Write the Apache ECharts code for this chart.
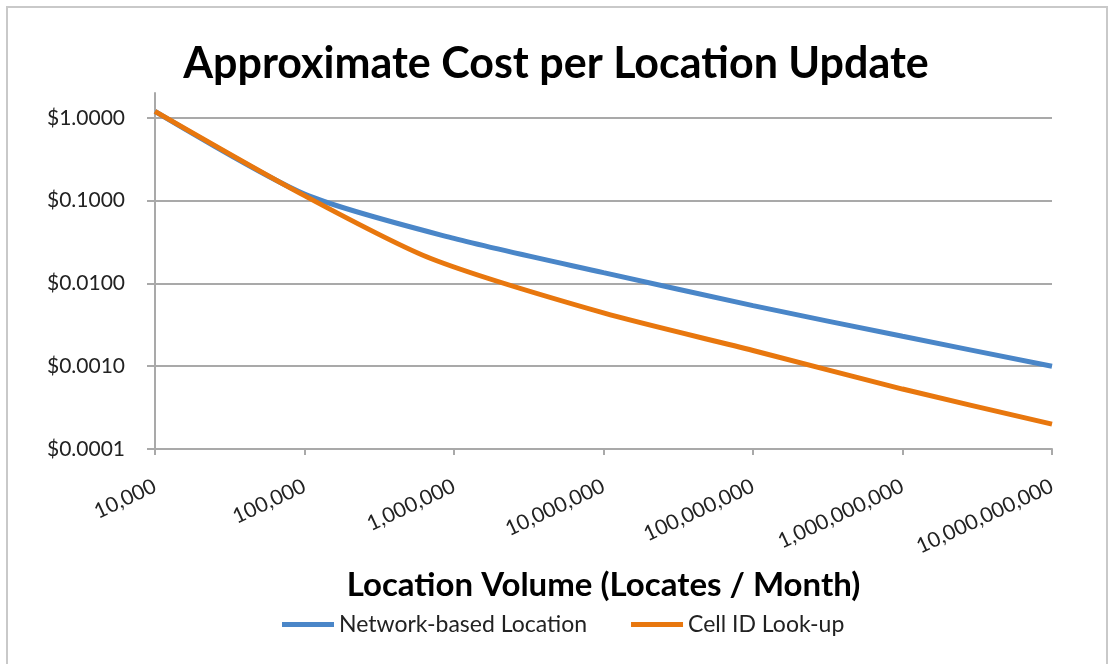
<!DOCTYPE html>
<html>
<head>
<meta charset="utf-8">
<script src="https://cdn.jsdelivr.net/npm/echarts@6/dist/echarts.min.js"></script>
<style>
  html, body { margin: 0; padding: 0; background: #fff; }
  #chart { width: 1112px; height: 664px; }
</style>
</head>
<body>
<div id="chart"></div>
<script>
// Monthly location volume (locates / month) and cost per update, in dollars
const networkVolume = [1e4, 1e5, 1e6, 1e7, 1e8, 1e9, 1e10];
const networkCost   = [1.2, 0.12, 0.035, 0.0135, 0.0054, 0.0023, 0.001];

const cellVolume = [1e4, 1e5, 7e5, 1e7, 1e8, 1e9, 1e10];
const cellCost   = [1.2, 0.115, 0.02, 0.0044, 0.00155, 0.00053, 0.0002];

const costTicks = [0.0001, 0.001, 0.01, 0.1, 1];

const seriesNames = ['Network-based Location', 'Cell ID Look-up'];
const colors = ['#4A86C8', '#E8770E'];

const FONT = 'Lato, "Open Sans", sans-serif';

const pairs = (xs, ys) => xs.map((x, i) => [x, ys[i]]);

const chart = echarts.init(document.getElementById('chart'));
chart.setOption({
  animation: false,
  backgroundColor: '#ffffff',
  graphic: [{
    type: 'rect',
    shape: { x: 7, y: 7, width: 1100, height: 700 },
    style: { fill: 'none', stroke: '#c9c9c9', lineWidth: 2 },
    silent: true
  }],
  title: {
    text: 'Approximate Cost per Location Update',
    left: 'center',
    top: 38,
    textStyle: { fontFamily: FONT, fontWeight: 'bold', fontSize: 43, color: '#000' }
  },
  legend: {
    bottom: 23,
    left: 277,
    itemWidth: 52,
    itemHeight: 5,
    itemGap: 44,
    icon: 'rect',
    textStyle: { fontFamily: FONT, fontSize: 23, color: '#222' },
    data: seriesNames
  },
  grid: { left: 155, right: 60, top: 93, bottom: 215, containLabel: false },
  xAxis: {
    type: 'log',
    logBase: 10,
    min: 1e4,
    max: 1e10,
    name: 'Location Volume (Locates / Month)',
    nameLocation: 'middle',
    nameGap: 120,
    nameTextStyle: { fontFamily: FONT, fontWeight: 'bold', fontSize: 33, color: '#000' },
    axisLine: { lineStyle: { color: '#a9a9a9', width: 2 } },
    axisTick: { show: true, length: 6, lineStyle: { color: '#a9a9a9', width: 2 } },
    splitLine: { show: false },
    axisLabel: {
      rotate: 25,
      margin: 36,
      fontFamily: FONT,
      fontSize: 21,
      color: '#222',
      formatter: v => Number(v).toLocaleString('en-US')
    }
  },
  yAxis: {
    type: 'log',
    logBase: 10,
    min: 0.0001,
    max: 2,
    axisLine: { show: true, lineStyle: { color: '#a9a9a9', width: 2 } },
    axisTick: { show: true, length: 8, customValues: costTicks, lineStyle: { color: '#a9a9a9', width: 2 } },
    splitLine: { show: true, lineStyle: { color: '#a9a9a9', width: 2 } },
    axisLabel: {
      customValues: costTicks,
      margin: 30,
      fontFamily: FONT,
      fontSize: 21,
      color: '#222',
      formatter: v => '$' + Number(v).toFixed(4)
    }
  },
  series: [
    {
      name: seriesNames[0],
      type: 'line',
      data: pairs(networkVolume, networkCost),
      smooth: 0.25,
      showSymbol: false,
      lineStyle: { color: colors[0], width: 5 },
      itemStyle: { color: colors[0] }
    },
    {
      name: seriesNames[1],
      type: 'line',
      data: pairs(cellVolume, cellCost),
      smooth: 0.25,
      showSymbol: false,
      lineStyle: { color: colors[1], width: 5 },
      itemStyle: { color: colors[1] }
    }
  ]
});
</script>
</body>
</html>
